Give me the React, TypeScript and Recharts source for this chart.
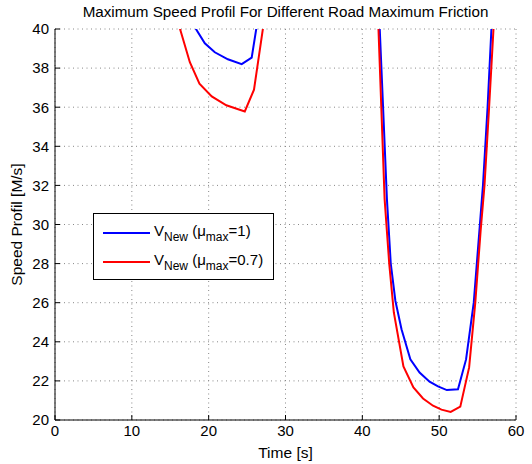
import { LineChart, Line, XAxis, YAxis, CartesianGrid, Legend } from "recharts";

// speed profile, mu_max = 1
const blueTime = [
  17.0, 19.5, 20.8, 22.5, 24.3, 25.6, 26.8, 41.8, 42.7, 43.2, 43.7, 44.3, 45.1,
  46.25, 47.45, 48.75, 49.85, 51.0, 52.45, 53.5, 54.5, 55.2, 55.7, 56.3, 56.8, 57.3,
];
const blueSpeed = [
  40.85, 39.27, 38.81, 38.45, 38.2, 38.54, 41.5, 44.3, 36.0, 31.3, 28.0, 26.1, 24.64,
  23.11, 22.43, 21.96, 21.72, 21.53, 21.57, 23.1, 26.0, 29.5, 32.0, 36.0, 40.0, 44.0,
];

// speed profile, mu_max = 0.7
const redTime = [
  15.0, 17.55, 18.8, 20.4, 22.3, 24.7, 25.9, 27.8, 41.7, 42.1, 42.9, 43.5, 44.1, 45.35,
  46.65, 47.9, 49.2, 50.3, 51.5, 52.75, 53.9, 54.7, 55.4, 55.9, 56.5, 57.07, 57.6,
];
const redSpeed = [
  41.7, 38.3, 37.2, 36.55, 36.1, 35.78, 36.9, 42.0, 44.0, 40.0, 31.3, 28.0, 25.5, 22.74,
  21.67, 21.1, 20.73, 20.53, 20.41, 20.68, 22.69, 26.0, 29.7, 32.0, 36.0, 40.0, 44.0,
];

const xTicks = [0, 10, 20, 30, 40, 50, 60];
const yTicks = [20, 22, 24, 26, 28, 30, 32, 34, 36, 38, 40];
const legendMu = ["1", "0.7"];

const blueData = blueTime.map((t, i) => ({ t, v: blueSpeed[i] }));
const redData = redTime.map((t, i) => ({ t, v: redSpeed[i] }));

const font = "'Liberation Sans', Arial, sans-serif";
const subStyle = { fontSize: 12, position: "relative" as const, top: 5 };

const renderLegend = (props: any) => {
  const { payload } = props;
  return (
    <div
      style={{
        border: "1px solid #000",
        background: "#fff",
        width: 181,
        height: 67,
        paddingTop: 4,
        boxSizing: "border-box",
        fontFamily: font,
        fontSize: 15,
        color: "#000",
      }}
    >
      {payload.map((entry: any, i: number) => (
        <div key={i} style={{ display: "flex", alignItems: "center", height: 29 }}>
          <svg width={60} height={6} style={{ flex: "none" }}>
            <line x1={9} y1={3} x2={56} y2={3} stroke={entry.color} strokeWidth={2} />
          </svg>
          <span style={{ whiteSpace: "nowrap", position: "relative", top: -2 }}>
            V<span style={subStyle}>New</span> (μ<span style={subStyle}>max</span>=
            {entry.value})
          </span>
        </div>
      ))}
    </div>
  );
};

const App = () => {
  const tickStyle = { fill: "#000", fontSize: 15, fontFamily: font };
  return (
    <div style={{ position: "absolute", left: 0, top: 0, width: 532, height: 464, background: "#fff" }}>
      <div
        style={{
          position: "absolute",
          left: 55,
          width: 461,
          top: 3,
          textAlign: "center",
          fontFamily: font,
          fontSize: 15.2,
          lineHeight: "17px",
          color: "#000",
          whiteSpace: "nowrap",
        }}
      >
        Maximum Speed Profil For Different Road Maximum Friction
      </div>
      <LineChart width={532} height={464} margin={{ top: 29, right: 16, bottom: 0, left: 0 }}>
        <CartesianGrid stroke="#888" strokeDasharray="1 3.5" />
        <XAxis
          dataKey="t"
          type="number"
          domain={[0, 60]}
          ticks={xTicks}
          height={44}
          allowDataOverflow
          stroke="#000"
          tickSize={-5}
          tickMargin={10}
          tick={tickStyle}
          label={{
            content: (p: any) => (
              <text
                x={p.viewBox.x + p.viewBox.width / 2}
                y={458}
                textAnchor="middle"
                fontSize={15.5}
                fontFamily={font}
                fill="#000"
              >
                Time [s]
              </text>
            ),
          }}
        />
        <XAxis
          xAxisId="top"
          orientation="top"
          dataKey="t"
          type="number"
          domain={[0, 60]}
          ticks={xTicks}
          height={0}
          stroke="#000"
          tickSize={-5}
          tickFormatter={() => ""}
        />
        <YAxis
          type="number"
          domain={[20, 40]}
          ticks={yTicks}
          width={55}
          allowDataOverflow
          stroke="#000"
          tickSize={-5}
          tickMargin={11}
          tick={tickStyle}
          label={{
            content: (p: any) => {
              const cy = p.viewBox.y + p.viewBox.height / 2;
              return (
                <text
                  x={22}
                  y={cy}
                  transform={`rotate(-90 22 ${cy})`}
                  textAnchor="middle"
                  fontSize={15.5}
                  fontFamily={font}
                  fill="#000"
                >
                  Speed Profil [M/s]
                </text>
              );
            },
          }}
        />
        <YAxis
          yAxisId="right"
          orientation="right"
          type="number"
          domain={[20, 40]}
          ticks={yTicks}
          width={0}
          stroke="#000"
          tickSize={-5}
          tickFormatter={() => ""}
        />
        <Legend
          layout="horizontal"
          verticalAlign="middle"
          align="center"
          itemSorter="dataKey"
          content={renderLegend}
          wrapperStyle={{ left: 93, top: 213, width: 181 }}
        />
        <Line
          data={blueData}
          dataKey="v"
          name={legendMu[0]}
          stroke="#0000ff"
          strokeWidth={2}
          dot={false}
          isAnimationActive={false}
        />
        <Line
          data={redData}
          dataKey="v"
          name={legendMu[1]}
          stroke="#ff0000"
          strokeWidth={2}
          dot={false}
          isAnimationActive={false}
        />
      </LineChart>
    </div>
  );
};

export default App;
